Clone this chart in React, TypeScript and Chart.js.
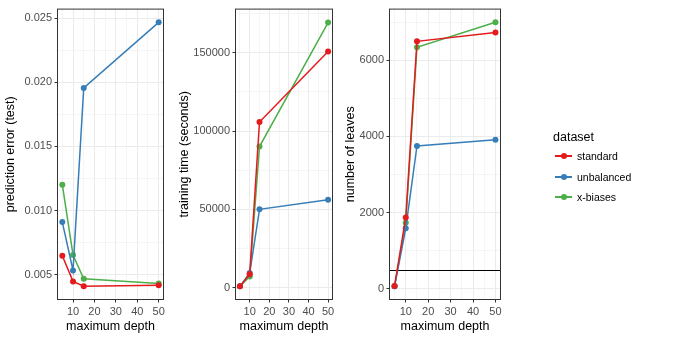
import React, { useEffect, useRef } from "react";
import { Chart, registerables } from "chart.js";

Chart.register(...registerables);

// ---------- data ----------
const depths = [5, 10, 15, 50];
const seriesNames = ["standard", "unbalanced", "x-biases"];
const seriesColors = ["#E41A1C", "#377EB8", "#4DAF4A"];

const errStandard = [0.00648, 0.00448, 0.0041, 0.00418];
const errUnbalanced = [0.0091, 0.00533, 0.01956, 0.02467];
const errXBiases = [0.01202, 0.00654, 0.00469, 0.00431];

const timeStandard = [800, 8600, 105800, 150800];
const timeUnbalanced = [800, 9300, 50000, 56100];
const timeXBiases = [800, 7100, 90100, 169300];

const leavesStandard = [68, 1870, 6500, 6735];
const leavesUnbalanced = [60, 1585, 3750, 3910];
const leavesXBiases = [60, 1730, 6345, 7000];

const leafLimit = 500;

const xMajorTicks = [10, 20, 30, 40, 50];
const xMinorTicks = [5, 15, 25, 35, 45];
const errMajorTicks = [0.005, 0.01, 0.015, 0.02, 0.025];
const errMinorTicks = [0.0075, 0.0125, 0.0175, 0.0225];
const timeMajorTicks = [0, 50000, 100000, 150000];
const timeMinorTicks = [25000, 75000, 125000, 175000];
const leavesMajorTicks = [0, 2000, 4000, 6000];
const leavesMinorTicks = [1000, 3000, 5000, 7000];

const xRange = [2.75, 52.25];
const errRange = [0.00307, 0.0257];
const timeRange = [-7600, 177900];
const leavesRange = [-287, 7347];

// ---------- styling ----------
const FONT = "'Liberation Sans', Arial, Helvetica, sans-serif";
const TICK_SIZE = 11;
const TITLE_SIZE = 12.5;
const LEGEND_SIZE = 10.5;
const LINE_W = 1.5;
const POINT_R = 3;

const panelBorder = {
  id: "panelBorder",
  afterDraw(chart: any) {
    const { ctx, chartArea: a } = chart;
    ctx.save();
    ctx.strokeStyle = "#333333";
    ctx.lineWidth = 1;
    ctx.strokeRect(a.left, a.top, a.right - a.left, a.bottom - a.top);
    ctx.restore();
  },
};

const hline = {
  id: "hline",
  beforeDatasetsDraw(chart: any, _args: any, opts: any) {
    if (opts == null || opts.value == null) return;
    const { ctx, chartArea: a } = chart;
    const y = Math.round(chart.scales.y.getPixelForValue(opts.value)) + 0.5;
    ctx.save();
    ctx.beginPath();
    ctx.strokeStyle = "#000000";
    ctx.lineWidth = 1.2;
    ctx.moveTo(a.left, y);
    ctx.lineTo(a.right, y);
    ctx.stroke();
    ctx.restore();
  },
};

function axisScale(
  major: number[],
  minor: number[],
  range: number[],
  fmt: (v: number) => string,
  title: string,
  isX: boolean,
  size: number,
  titlePad: number
) {
  const all = [...major, ...minor].sort((a, b) => a - b);
  const isMajor = (v: number) => major.includes(v);
  return {
    type: "linear",
    position: isX ? "bottom" : "left",
    min: range[0],
    max: range[1],
    afterBuildTicks: (scale: any) => {
      scale.ticks = all.map((v) => ({ value: v }));
    },
    afterFit: (scale: any) => {
      if (isX) scale.height = size;
      else scale.width = size;
    },
    border: { display: false },
    grid: {
      color: "#EBEBEB",
      lineWidth: (c: any) => (c.tick && isMajor(c.tick.value) ? 1 : 0.5),
      tickColor: (c: any) =>
        c.tick && isMajor(c.tick.value) ? "#333333" : "rgba(0,0,0,0)",
      tickLength: 3,
      drawTicks: true,
    },
    ticks: {
      autoSkip: false,
      maxRotation: 0,
      minRotation: 0,
      padding: 2.5,
      color: "#4D4D4D",
      font: { family: FONT, size: TICK_SIZE },
      callback: (v: any) => (isMajor(v) ? fmt(v) : ""),
    },
    title: {
      display: true,
      text: title,
      color: "#000000",
      font: { family: FONT, size: TITLE_SIZE },
      padding: isX ? { top: 0, bottom: titlePad } : { top: titlePad, bottom: 0 },
    },
  };
}

type PanelProps = {
  left: number;
  width: number;
  series: number[][];
  yMajor: number[];
  yMinor: number[];
  yRange: number[];
  yFmt: (v: number) => string;
  yTitle: string;
  yWidth: number;
  yTitlePad: number;
  padRight: number;
  limit?: number;
};

function Panel(p: PanelProps) {
  const ref = useRef<HTMLCanvasElement | null>(null);
  useEffect(() => {
    if (!ref.current) return;
    const datasets = p.series.map((vals, i) => ({
      label: seriesNames[i],
      data: depths.map((d, j) => ({ x: d, y: vals[j] })),
      showLine: true,
      borderColor: seriesColors[i],
      backgroundColor: seriesColors[i],
      borderWidth: LINE_W,
      pointRadius: POINT_R,
      pointBorderWidth: 0,
      pointHoverRadius: POINT_R,
      tension: 0,
    }));
    const chart = new Chart(ref.current, {
      type: "scatter",
      data: { datasets },
      plugins: p.limit != null ? [panelBorder, hline] : [panelBorder],
      options: {
        animation: false,
        responsive: false,
        events: [],
        layout: { padding: { top: 5.5, right: p.padRight, bottom: 0, left: 0 } },
        scales: {
          x: axisScale(xMajorTicks, xMinorTicks, xRange, (v) => String(v), "maximum depth", true, 39.5, 5),
          y: axisScale(p.yMajor, p.yMinor, p.yRange, p.yFmt, p.yTitle, false, p.yWidth, p.yTitlePad),
        },
        plugins: {
          legend: { display: false },
          tooltip: { enabled: false },
          hline: { value: p.limit },
        },
      } as any,
    } as any);
    return () => chart.destroy();
  }, []);
  return (
    <canvas
      ref={ref}
      width={p.width}
      height={339}
      style={{ position: "absolute", left: p.left, top: 0, width: p.width, height: 339 }}
    />
  );
}

function Legend() {
  const itemY = [156, 177, 197];
  return (
    <div style={{ position: "absolute", left: 0, top: 0, width: 676, height: 339, pointerEvents: "none" }}>
      <div
        style={{
          position: "absolute",
          left: 553,
          top: 137 - 8,
          height: 16,
          lineHeight: "16px",
          fontFamily: FONT,
          fontSize: TITLE_SIZE,
          color: "#000",
          whiteSpace: "nowrap",
        }}
      >
        dataset
      </div>
      {seriesNames.map((name, i) => (
        <div key={name}>
          <div
            style={{
              position: "absolute",
              left: 555,
              top: itemY[i] - 1,
              width: 17,
              height: LINE_W,
              background: seriesColors[i],
            }}
          />
          <div
            style={{
              position: "absolute",
              left: 563.5 - POINT_R,
              top: itemY[i] - 0.25 - POINT_R,
              width: POINT_R * 2,
              height: POINT_R * 2,
              borderRadius: "50%",
              background: seriesColors[i],
            }}
          />
          <div
            style={{
              position: "absolute",
              left: 577,
              top: itemY[i] - 7,
              height: 14,
              lineHeight: "14px",
              fontFamily: FONT,
              fontSize: LEGEND_SIZE,
              color: "#000",
              whiteSpace: "nowrap",
            }}
          >
            {name}
          </div>
        </div>
      ))}
    </div>
  );
}

export default function App() {
  return (
    <div style={{ position: "absolute", left: 0, top: 0, width: 676, height: 339, background: "#ffffff" }}>
      <Panel
        left={0}
        width={169}
        series={[errStandard, errUnbalanced, errXBiases]}
        yMajor={errMajorTicks}
        yMinor={errMinorTicks}
        yRange={errRange}
        yFmt={(v) => v.toFixed(3)}
        yTitle="prediction error (test)"
        yWidth={57.5}
        yTitlePad={3}
        padRight={5.5}
      />
      <Panel
        left={169}
        width={169}
        series={[timeStandard, timeUnbalanced, timeXBiases]}
        yMajor={timeMajorTicks}
        yMinor={timeMinorTicks}
        yRange={timeRange}
        yFmt={(v) => String(v)}
        yTitle="training time (seconds)"
        yWidth={66.5}
        yTitlePad={8.5}
        padRight={5.5}
      />
      <Panel
        left={338}
        width={169}
        series={[leavesStandard, leavesUnbalanced, leavesXBiases]}
        yMajor={leavesMajorTicks}
        yMinor={leavesMinorTicks}
        yRange={leavesRange}
        yFmt={(v) => String(v)}
        yTitle="number of leaves"
        yWidth={51.5}
        yTitlePad={5.5}
        padRight={6.5}
        limit={leafLimit}
      />
      <Legend />
    </div>
  );
}
